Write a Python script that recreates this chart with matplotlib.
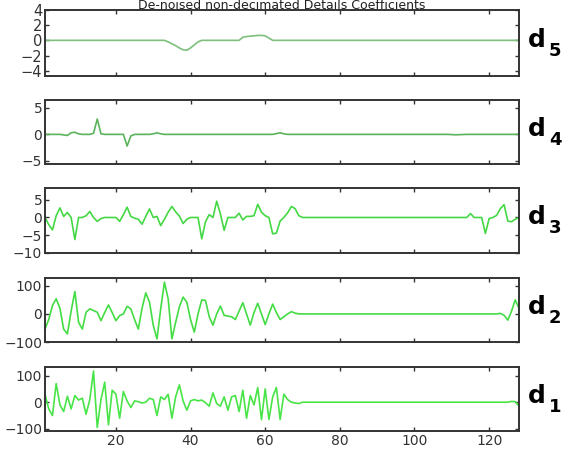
import numpy as np
import matplotlib
matplotlib.use("Agg")
import matplotlib.pyplot as plt

# coefficient index 1..128
x = np.arange(1, 129)

def pad(vals, n=128):
    vals = list(vals)
    return np.array(vals + [0.0] * (n - len(vals)))

d5 = pad([0]*33 + [-0.2, -0.45, -0.7, -1.0, -1.25, -1.3, -1.0, -0.6, -0.2, 0,
          0, 0, 0, 0, 0, 0, 0, 0, 0, 0, 0.4, 0.5, 0.55, 0.6, 0.65, 0.65, 0.6, 0.3, 0])

d4 = pad([0, 0, 0, 0, 0, -0.1, -0.2, 0.3, 0.4, 0.1, 0, 0, 0, 0.2, 2.9, 0.1, 0,
          0, 0, 0, 0, 0, -2.2, -0.3, 0, 0, 0, 0, 0, 0.1, 0.3, 0.1]
         + [0]*30 + [0.15, 0.3, 0.1] + [0]*44 + [-0.05, -0.08, -0.05])

d3 = pad([0, -2.0, -3.5, 0.5, 2.7, 0.3, 1.4, 0, -6.2, 0,
          0, 0.5, 1.7, 0, -1.1, -0.3, 0, 0, 0, 0,
          -1.1, 0.8, 2.9, 0.3, -0.2, -0.5, -1.9, 0.3, 2.4, 0,
          0.3, -2.3, -0.5, 1.5, 3.1, 1.6, 0.4, -1.7, -0.5, 0,
          0, 0, -6.0, -1.2, 0.8, 0, 4.6, 1.0, -3.6, 0,
          0, 0, 1.2, -0.7, 0.3, 0.3, 0.5, 3.7, 1.5, 0.5,
          0, -4.6, -4.4, -1.0, 0, 1.3, 3.1, 2.5, 0.5, 0]
         + [0]*44 + [1.1, 0, 0, 0, -4.5, -0.3, 0, 0.6, 2.5, 3.6, -1.0, -1.2, -0.5, 0])

d2 = pad([-54, -20, 30, 54, 20, -54, -71, 10, 80, -30,
          -54, 6, 18, 12, 6, -24, 5, 32, 5, -24,
          -6, 0, 27, 18, -20, -54, 20, 75, 42, -40,
          -89, 18, 113, 54, -89, -30, 25, 60, 42, -20,
          -65, 0, 50, 48, -10, -40, 0, 28, -5, -8,
          -10, -20, 10, 40, 0, -40, 5, 38, 0, -38,
          0, 35, 5, -20, -10, 0, 8, 3, 0, 0]
         + [0]*52 + [2, -5, -22, 10, 50, 20])

d1 = pad([30, -25, -50, 70, -10, -35, 22, -25, 25, 8,
          15, -45, 10, 117, -95, 10, 75, -85, 45, 30,
          -60, 40, 5, -20, 5, 2, -3, 0, 15, 10,
          -50, 20, 10, 30, -60, 20, 65, 5, -30, 5,
          10, 5, 8, -2, -15, 35, -5, -15, 20, -30,
          20, 25, -35, 45, -60, 25, -10, 55, -65, 50,
          -65, 20, 55, -65, 30, 10, 0, -3, -5, 0]
         + [0]*50 + [0, 0, 0, 0, 0, 3, 2, -15])

series = [d5, d4, d3, d2, d1]
names = ["5", "4", "3", "2", "1"]
ylims = [(-4.7, 4.0), (-5.6, 6.5), (-10, 8.3), (-100, 128), (-108, 132)]
yticks = [[-4, -2, 0, 2, 4], [-5, 0, 5], [-10, -5, 0, 5], [-100, 0, 100], [-100, 0, 100]]
colors = ["#7cc07c", "#5bb35b", "#44d844", "#44dc44", "#48e448"]

W, H = 568, 451
fig = plt.figure(figsize=(W / 100, H / 100), dpi=100)

tops = [10, 100, 188, 278, 367]
bots = [76, 164, 253, 342, 431]
left, right = 45, 519

for i in range(5):
    ax = fig.add_axes([left / W, (H - bots[i]) / H, (right - left) / W, (bots[i] - tops[i]) / H])
    ax.plot(x, series[i], color=colors[i], lw=1.2)
    ax.set_xlim(1, 128)
    ax.set_ylim(*ylims[i])
    ax.set_yticks(yticks[i])
    ax.set_xticks([20, 40, 60, 80, 100, 120])
    ax.tick_params(direction="in", length=3, width=1, top=True, right=True,
                   labelsize=10.5 if i == 0 else 10, colors="#333333", pad=2)
    if i < 4:
        ax.tick_params(labelbottom=False)
    for s in ax.spines.values():
        s.set_color("#333333")
        s.set_linewidth(1.4)
    yc = (tops[i] + bots[i]) / 2
    fig.text(528 / W, 1 - (yc + 4) / H, "d", fontsize=18, fontweight="bold",
             va="baseline", ha="left")
    fig.text(549 / W, 1 - (yc + 13) / H, names[i], fontsize=13, fontweight="bold",
             va="baseline", ha="left")

fig.text(282 / W, 1 - 9 / H, "De-noised non-decimated Details Coefficients",
         fontsize=9, ha="center", va="baseline", color="#222222")

fig.savefig("out.png", dpi=100)
